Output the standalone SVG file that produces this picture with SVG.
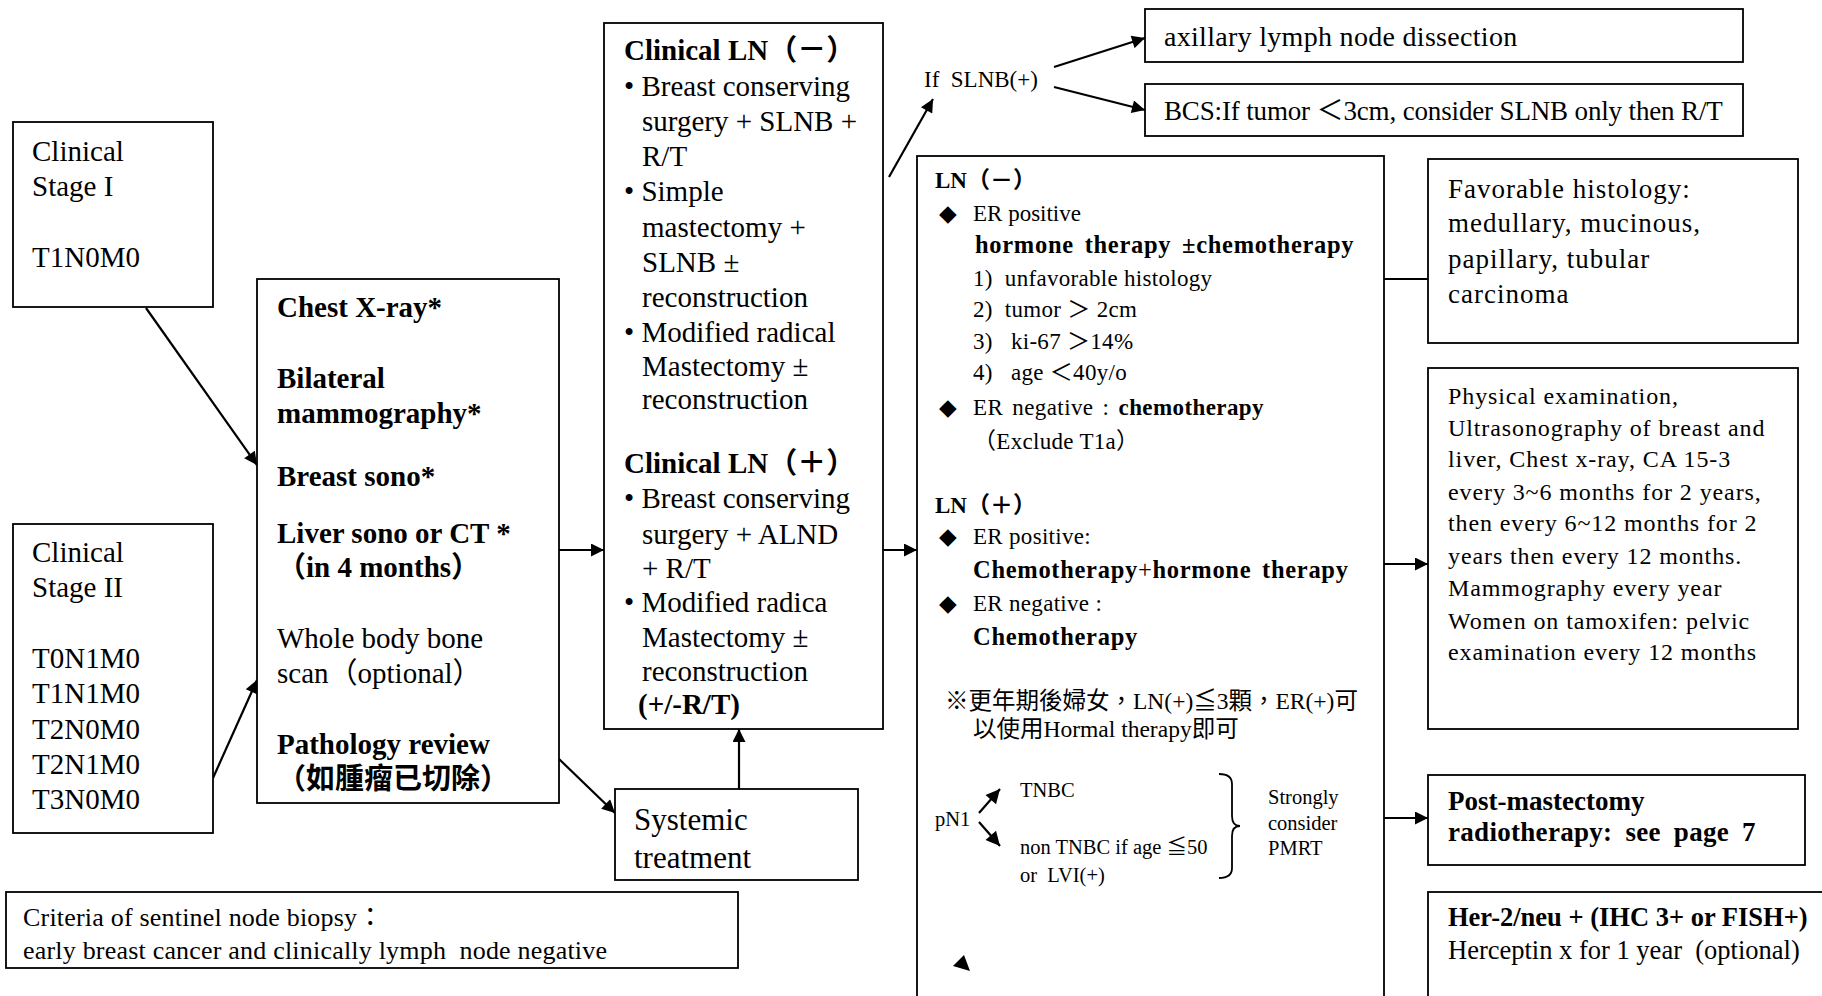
<svg xmlns="http://www.w3.org/2000/svg" width="1822" height="996" viewBox="0 0 1822 996">
<defs>
<style>
text{font-family:"Liberation Serif","Noto Sans CJK TC",serif;fill:#000;white-space:pre}
.box{fill:#fff;stroke:#000;stroke-width:1.8}
.c{stroke:#000;stroke-width:2.2;fill:none}
.f29{font-size:29px}
.f27{font-size:27px}
.f26{font-size:26px}
.f23{font-size:23px}
.f22{font-size:22px}
.f20{font-size:20.5px}
.b{font-weight:bold}
.wide{font-size:24.5px;letter-spacing:0.7px;word-spacing:4px}
.dia{font-family:"DejaVu Sans",sans-serif;font-size:23px}
</style>
<marker id="ah" viewBox="0 0 10 10" refX="10" refY="5" markerWidth="16" markerHeight="13" markerUnits="userSpaceOnUse" orient="auto"><path d="M0,0L10,5L0,10z" fill="#000"/></marker>
<marker id="ahs" viewBox="0 0 10 10" refX="10" refY="5" markerWidth="16" markerHeight="14" markerUnits="userSpaceOnUse" orient="auto"><path d="M0,0L10,5L0,10z" fill="#000"/></marker>
</defs>
<rect width="1822" height="996" fill="#fff"/>

<g id="connectors">
<line class="c" x1="146" y1="308" x2="257" y2="465" marker-end="url(#ah)"/>
<line class="c" x1="213" y1="778" x2="257" y2="680" marker-end="url(#ah)"/>
<line class="c" x1="559" y1="550" x2="604" y2="550" marker-end="url(#ah)"/>
<line class="c" x1="559" y1="759" x2="615" y2="813" marker-end="url(#ah)"/>
<line class="c" x1="739" y1="789" x2="739" y2="729" marker-end="url(#ah)"/>
<line class="c" x1="883" y1="550" x2="917" y2="550" marker-end="url(#ah)"/>
<line class="c" x1="889" y1="177" x2="933" y2="99" marker-end="url(#ah)"/>
<line class="c" x1="1054" y1="67" x2="1145" y2="38" marker-end="url(#ah)"/>
<line class="c" x1="1054" y1="87" x2="1145" y2="110" marker-end="url(#ah)"/>
<line class="c" x1="1384" y1="279" x2="1428" y2="279"/>
<line class="c" x1="1384" y1="564" x2="1428" y2="564" marker-end="url(#ah)"/>
<line class="c" x1="1384" y1="818" x2="1428" y2="818" marker-end="url(#ah)"/>
</g>

<g id="stage1">
<rect class="box" x="13" y="122" width="200" height="185"/>
<text class="f29" x="32" y="161">Clinical</text>
<text class="f29" x="32" y="196">Stage I</text>
<text class="f29" x="32" y="267">T1N0M0</text>
</g>

<g id="stage2">
<rect class="box" x="13" y="524" width="200" height="309"/>
<text class="f29" x="32" y="562">Clinical</text>
<text class="f29" x="32" y="597">Stage II</text>
<text class="f29" x="32" y="668">T0N1M0</text>
<text class="f29" x="32" y="703">T1N1M0</text>
<text class="f29" x="32" y="739">T2N0M0</text>
<text class="f29" x="32" y="774">T2N1M0</text>
<text class="f29" x="32" y="809">T3N0M0</text>
</g>

<g id="workup">
<rect class="box" x="257" y="279" width="302" height="524"/>
<text class="f29 b" x="277" y="317">Chest X-ray*</text>
<text class="f29 b" x="277" y="388">Bilateral</text>
<text class="f29 b" x="277" y="423">mammography*</text>
<text class="f29 b" x="277" y="486">Breast sono*</text>
<text class="f29 b" x="277" y="543">Liver sono or CT *</text>
<text class="f29 b" x="277" y="577">（in 4 months）</text>
<text class="f29" x="277" y="648">Whole body bone</text>
<text class="f29" x="277" y="683">scan（optional）</text>
<text class="f29 b" x="277" y="754">Pathology review</text>
<text class="f29 b" x="277" y="789">（如腫瘤已切除）</text>
</g>

<g id="clinicalLN">
<rect class="box" x="604" y="23" width="279" height="706"/>
<text class="f29 b" x="624" y="60">Clinical LN（－）</text>
<text class="f29" x="624" y="96">• Breast conserving</text>
<text class="f29" x="642" y="131">surgery + SLNB +</text>
<text class="f29" x="642" y="166">R/T</text>
<text class="f29" x="624" y="201">• Simple</text>
<text class="f29" x="642" y="237">mastectomy +</text>
<text class="f29" x="642" y="272">SLNB ±</text>
<text class="f29" x="642" y="307">reconstruction</text>
<text class="f29" x="624" y="342">• Modified radical</text>
<text class="f29" x="642" y="376">Mastectomy ±</text>
<text class="f29" x="642" y="409">reconstruction</text>
<text class="f29 b" x="624" y="473">Clinical LN（＋）</text>
<text class="f29" x="624" y="508">• Breast conserving</text>
<text class="f29" x="642" y="544">surgery + ALND</text>
<text class="f29" x="642" y="578">+ R/T</text>
<text class="f29" x="624" y="612">• Modified radica</text>
<text class="f29" x="642" y="647">Mastectomy ±</text>
<text class="f29" x="642" y="681">reconstruction</text>
<text class="f29 b" x="638" y="714">(+/-R/T)</text>
</g>

<g id="systemic">
<rect class="box" x="615" y="789" width="243" height="91"/>
<text x="634" y="830" style="font-size:31px">Systemic</text>
<text x="634" y="868" style="font-size:31px">treatment</text>
</g>

<g id="criteria">
<rect class="box" x="6" y="892" width="732" height="76"/>
<text x="23" y="926" style="font-size:26px;letter-spacing:0.2px">Criteria of sentinel node biopsy：</text>
<text x="23" y="959" style="font-size:26px;letter-spacing:0.2px">early breast cancer and clinically lymph  node negative</text>
</g>

<g id="ifslnb">
<text class="f23" x="924" y="87">If  SLNB(+)</text>
</g>

<g id="axillary">
<rect class="box" x="1145" y="9" width="598" height="53"/>
<text x="1164" y="46" style="font-size:28px;letter-spacing:0.3px">axillary lymph node dissection</text>
</g>

<g id="bcs">
<rect class="box" x="1145" y="84" width="598" height="52"/>
<text class="f27" x="1164" y="120" style="letter-spacing:-0.15px">BCS:If tumor ＜3cm, consider SLNB only then R/T</text>
</g>

<g id="lnbox">
<rect class="box" x="917" y="156" width="467" height="860"/>
<text class="f23 b" x="935" y="188">LN（－）</text>
<text class="dia" x="939" y="221">◆</text>
<text class="f23" x="973" y="221">ER positive</text>
<text class="b wide" x="975" y="253">hormone therapy ±chemotherapy</text>
<text class="f23" x="973" y="286" style="letter-spacing:0.3px">1)  unfavorable histology</text>
<text class="f23" x="973" y="317" style="letter-spacing:0.3px">2)  tumor ＞ 2cm</text>
<text class="f23" x="973" y="349" style="letter-spacing:0.3px">3)   ki-67 ＞14%</text>
<text class="f23" x="973" y="380" style="letter-spacing:0.3px">4)   age ＜40y/o</text>
<text class="dia" x="939" y="415">◆</text>
<text class="f23" x="973" y="415" style="letter-spacing:0.4px;word-spacing:3px">ER negative : <tspan class="b">chemotherapy</tspan></text>
<text class="f23" x="973" y="449" style="letter-spacing:0.3px">（Exclude T1a）</text>
<text class="f23 b" x="935" y="513">LN（＋）</text>
<text class="dia" x="939" y="544">◆</text>
<text class="f23" x="973" y="544" style="letter-spacing:0.3px">ER positive:</text>
<text class="b wide" x="973" y="578">Chemotherapy<tspan style="font-weight:normal">+</tspan>hormone therapy</text>
<text class="dia" x="939" y="611">◆</text>
<text class="f23" x="973" y="611" style="letter-spacing:0.3px">ER negative :</text>
<text class="b wide" x="973" y="645">Chemotherapy</text>
<text x="945" y="709" style="font-size:23.5px">※更年期後婦女，LN(+)≦3顆，ER(+)可</text>
<text x="973" y="737" style="font-size:23.5px">以使用Hormal therapy即可</text>
<text class="f20" x="935" y="826">pN1</text>
<line class="c" x1="979" y1="813" x2="1000" y2="789" marker-end="url(#ahs)"/>
<line class="c" x1="979" y1="822" x2="1000" y2="846" marker-end="url(#ahs)"/>
<text class="f20" x="1020" y="797">TNBC</text>
<text class="f20" x="1020" y="854">non TNBC if age ≦50</text>
<text class="f20" x="1020" y="882">or  LVI(+)</text>
<path class="c" style="stroke-width:1.8" d="M1219,774 Q1232,774 1232,784 L1232,816 Q1232,826 1240,826 Q1232,826 1232,836 L1232,868 Q1232,878 1219,878"/>
<text class="f20" x="1268" y="804">Strongly</text>
<text class="f20" x="1268" y="830">consider</text>
<text class="f20" x="1268" y="855">PMRT</text>
<polygon points="964,955 953,966 970,971" fill="#000"/>
</g>

<g id="favorable">
<rect class="box" x="1428" y="159" width="370" height="184"/>
<text x="1448" y="198" style="font-size:27px;letter-spacing:1px">Favorable histology:</text>
<text x="1448" y="232" style="font-size:27px;letter-spacing:1px">medullary, mucinous,</text>
<text x="1448" y="268" style="font-size:27px;letter-spacing:1px">papillary, tubular</text>
<text x="1448" y="303" style="font-size:27px;letter-spacing:1px">carcinoma</text>
</g>

<g id="followup">
<rect class="box" x="1428" y="368" width="370" height="361"/>
<text x="1448" y="404" style="font-size:24px;letter-spacing:0.9px">Physical examination,</text>
<text x="1448" y="436" style="font-size:24px;letter-spacing:0.9px">Ultrasonography of breast and</text>
<text x="1448" y="467" style="font-size:24px;letter-spacing:0.9px">liver, Chest x-ray, CA 15-3</text>
<text x="1448" y="500" style="font-size:24px;letter-spacing:0.9px">every 3~6 months for 2 years,</text>
<text x="1448" y="531" style="font-size:24px;letter-spacing:0.9px">then every 6~12 months for 2</text>
<text x="1448" y="564" style="font-size:24px;letter-spacing:0.9px">years then every 12 months.</text>
<text x="1448" y="596" style="font-size:24px;letter-spacing:0.9px">Mammography every year</text>
<text x="1448" y="629" style="font-size:24px;letter-spacing:0.9px">Women on tamoxifen: pelvic</text>
<text x="1448" y="660" style="font-size:24px;letter-spacing:0.9px">examination every 12 months</text>
</g>

<g id="postmastectomy">
<rect class="box" x="1428" y="775" width="377" height="90"/>
<text class="b" x="1448" y="810" style="font-size:27px">Post-mastectomy</text>
<text class="b" x="1448" y="841" style="font-size:27px;word-spacing:6px;letter-spacing:0.3px">radiotherapy: see page 7</text>
</g>

<g id="her2">
<rect class="box" x="1428" y="892" width="420" height="130"/>
<text class="b" x="1448" y="926" style="font-size:26.5px">Her-2/neu + (IHC 3+ or FISH+)</text>
<text x="1448" y="959" style="font-size:26.5px">Herceptin x for 1 year  (optional)</text>
</g>
</svg>
